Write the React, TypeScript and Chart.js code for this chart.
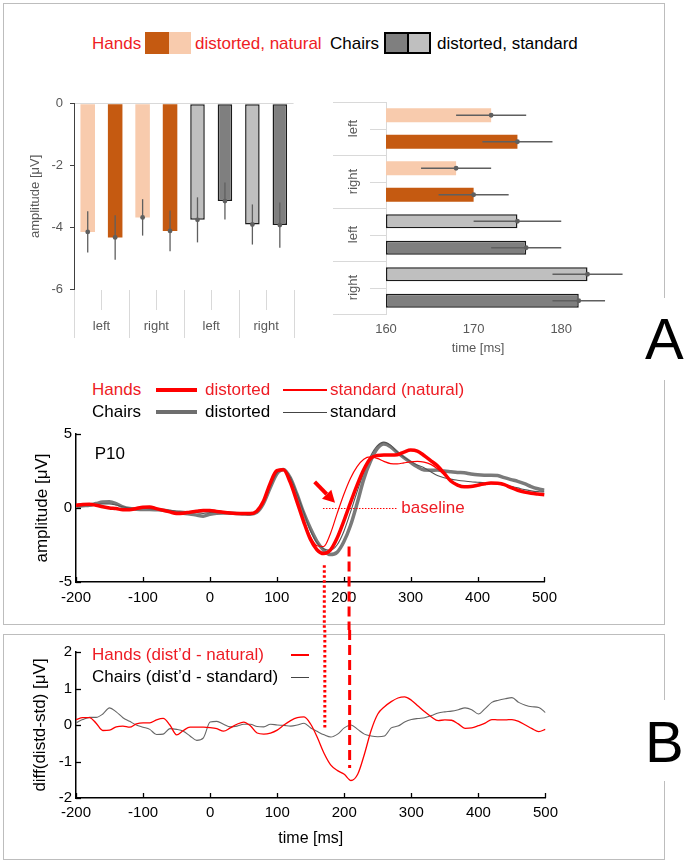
import React, { useEffect, useRef } from 'react';
import { Chart, registerables } from 'chart.js';

Chart.register(...registerables);

const FONT = "'Liberation Sans', Arial, Helvetica, sans-serif";
Chart.defaults.font.family = FONT;

const RED = '#ff0000';
const RED_TEXT = '#ee1c24';
const GRAY_TXT = '#595959';
const ERR_COLOR = '#5f5f5f';

// ---------- Panel A, top: amplitude & latency bars ----------
const groupLabels = ['left', 'right', 'left', 'right'];
const lightColors = ['#F8CBAD', '#F8CBAD', '#BFBFBF', '#BFBFBF'];
const darkColors = ['#C55A11', '#C55A11', '#7F7F7F', '#7F7F7F'];
const barBorderColors = ['rgba(0,0,0,0)', 'rgba(0,0,0,0)', '#1a1a1a', '#1a1a1a'];
const barBorderWidths = [0, 0, 1.5, 1.5];

// amplitude [µV]: light = natural / standard, dark = distorted
const ampLight = [-4.15, -3.68, -3.76, -3.91];
const ampDark = [-4.33, -4.12, -3.15, -3.93];
const ampLightErr = [0.67, 0.59, 0.73, 0.65];
const ampDarkErr = [0.72, 0.66, 0.6, 0.73];

// latency [ms]
const latAxisMin = 160;
const latAxisMax = 181;
const latLight = [172, 168, 175, 183];
const latDark = [175, 170, 176, 182];
const latLightErr = [4, 4, 5, 4];
const latDarkErr = [4, 4, 4, 3];

// ---------- Panel A, bottom: ERP at P10 ----------
const times = [
  -200, -190, -180, -170, -160, -150, -140, -130, -120, -110,
  -100, -90, -80, -70, -60, -50, -40, -30, -20, -10,
  0, 10, 20, 30, 40, 50, 60, 70, 80, 90,
  100, 110, 120, 130, 140, 150, 160, 170, 180, 190,
  200, 210, 220, 230, 240, 250, 260, 270, 280, 290,
  300, 310, 320, 330, 340, 350, 360, 370, 380, 390,
  400, 410, 420, 430, 440, 450, 460, 470, 480, 490, 500,
];

const handsDistorted = [
  0.19, 0.24, 0.26, 0.18, 0.08, 0.0, -0.04, -0.12, -0.12, -0.04,
  0.05, 0.07, -0.04, -0.15, -0.26, -0.37, -0.35, -0.28, -0.22, -0.17,
  -0.17, -0.23, -0.29, -0.34, -0.37, -0.38, -0.38, -0.22, 0.45, 1.65,
  2.52, 2.58, 1.75, 0.45, -0.9, -2.1, -2.82, -3.08, -2.85, -2.05,
  -0.9, 0.35, 1.55, 2.6, 3.35, 3.55, 3.58, 3.58, 3.6, 3.78,
  3.92, 3.85, 3.55, 3.2, 2.85, 2.35, 1.82, 1.55, 1.43, 1.45,
  1.54, 1.63, 1.69, 1.67, 1.58, 1.37, 1.2, 1.07, 0.99, 0.94, 0.9,
];

const handsNatural = [
  0.24, 0.28, 0.27, 0.2, 0.1, 0.02, -0.03, -0.08, -0.06, 0.02,
  0.08, 0.06, -0.02, -0.12, -0.22, -0.3, -0.3, -0.24, -0.18, -0.14,
  -0.14, -0.18, -0.24, -0.3, -0.33, -0.35, -0.35, -0.2, 0.4, 1.55,
  2.45, 2.55, 1.85, 0.6, -0.75, -1.9, -2.55, -2.6, -1.75, -0.4,
  0.9, 2.0, 2.8, 3.3, 3.45, 3.35, 3.15, 3.0, 2.98, 3.05,
  3.12, 3.15, 3.1, 2.95, 2.65, 2.25, 1.85, 1.6, 1.48, 1.46,
  1.5, 1.58, 1.64, 1.62, 1.52, 1.38, 1.24, 1.12, 1.04, 0.98, 0.95,
];

const chairsDistorted = [
  0.08, 0.15, 0.19, 0.3, 0.4, 0.42, 0.3, 0.08, -0.04, -0.08,
  -0.1, -0.1, -0.12, -0.15, -0.22, -0.3, -0.35, -0.4, -0.48, -0.55,
  -0.42, -0.35, -0.33, -0.35, -0.37, -0.4, -0.42, -0.3, 0.3, 1.35,
  2.3, 2.6, 2.05, 0.95, -0.3, -1.35, -2.25, -2.85, -3.15, -3.0,
  -2.3, -1.2, 0.3, 1.95, 3.15, 4.0, 4.32, 4.14, 3.75, 3.4,
  3.08, 2.78, 2.56, 2.55, 2.56, 2.5, 2.45, 2.4, 2.38, 2.3,
  2.24, 2.22, 2.22, 2.2, 2.05, 1.92, 1.8, 1.65, 1.45, 1.3, 1.2,
];

const chairsStandard = [
  0.12, 0.16, 0.2, 0.24, 0.28, 0.28, 0.2, 0.08, 0.0, -0.04,
  -0.02, -0.04, -0.08, -0.12, -0.16, -0.2, -0.22, -0.26, -0.32, -0.36,
  -0.3, -0.28, -0.28, -0.3, -0.33, -0.36, -0.37, -0.26, 0.35, 1.4,
  2.35, 2.6, 2.1, 1.0, -0.25, -1.5, -2.35, -2.75, -2.85, -2.5,
  -1.6, -0.3, 1.1, 2.4, 3.5, 4.2, 4.45, 4.25, 3.8, 3.45,
  3.15, 2.9, 2.72, 2.45, 2.2, 2.05, 1.95, 1.88, 1.82, 1.77,
  1.74, 1.71, 1.69, 1.67, 1.6, 1.46, 1.36, 1.24, 1.16, 1.11, 1.08,
];

// ---------- Panel B: difference waves ----------
const diffHands = [
  0.15, 0.2, 0.2, 0.05, -0.15, -0.14, -0.05, -0.03, -0.06, 0.03,
  0.06, 0.06, 0.14, 0.18, 0.0, -0.27, -0.15, -0.06, -0.06, -0.06,
  -0.07, -0.1, -0.17, -0.08, 0.02, 0.08, -0.02, -0.22, -0.25, -0.22,
  -0.14, 0.0, 0.12, 0.2, 0.22, 0.02, -0.35, -0.78, -1.1, -1.25,
  -1.35, -1.52, -1.35, -0.8, -0.15, 0.3, 0.5, 0.64, 0.74, 0.77,
  0.68, 0.52, 0.36, 0.22, 0.12, 0.14, 0.13, 0.03, -0.09, -0.08,
  -0.02, 0.05, 0.15, 0.14, 0.14, 0.15, 0.1, 0.0, -0.1, -0.18, -0.12,
];

const diffChairs = [
  0.06, 0.15, 0.21, 0.21, 0.3, 0.47, 0.36, 0.2, 0.1, 0.0,
  -0.06, -0.12, -0.26, -0.25, -0.1, -0.12, -0.17, -0.3, -0.42, -0.35,
  0.08, 0.1, 0.02, -0.05, -0.03, 0.02, 0.02, -0.04, -0.05, 0.02,
  0.0, -0.01, -0.03, 0.0, 0.05, -0.08, -0.18, -0.27, -0.33, -0.25,
  -0.08, 0.0, -0.12, -0.25, -0.3, -0.32, -0.3, -0.08, -0.03, 0.08,
  0.15, 0.18, 0.2, 0.26, 0.33, 0.36, 0.38, 0.42, 0.47, 0.42,
  0.3, 0.45, 0.62, 0.68, 0.72, 0.75, 0.62, 0.54, 0.5, 0.48, 0.34,
];

// annotations (data coordinates)
const markerDotted = { t: 171, erpTop: -3.87, diffEnd: -0.09 };
const markerDashed = { t: 208, erpTop: -2.6, diffEnd: -1.18 };
const baselineFrom = 169;
const baselineTo = 280;
const baselineTextT = 286;
const arrowTail = { t: 156.6, v: 1.77 };
const arrowTip = { t: 187, v: 0.35 };
const electrodeLabel = { text: 'P10', t: -172, v: 3.65 };

const pts = (vals: number[]) => times.map((t, i) => ({ x: t, y: vals[i] }));

// ---------- plugins ----------
const errorBars = {
  id: 'errorBars',
  afterDatasetsDraw(chart: any) {
    const horizontal = chart.options.indexAxis === 'y';
    const { ctx } = chart;
    ctx.save();
    chart.data.datasets.forEach((ds: any, di: number) => {
      const meta = chart.getDatasetMeta(di);
      meta.data.forEach((el: any, i: number) => {
        const v = ds.data[i];
        const e = ds.errors[i];
        ctx.strokeStyle = ERR_COLOR;
        ctx.fillStyle = ERR_COLOR;
        ctx.lineWidth = 1.3;
        ctx.beginPath();
        if (horizontal) {
          const sx = chart.scales.x;
          ctx.moveTo(sx.getPixelForValue(v - e), el.y);
          ctx.lineTo(sx.getPixelForValue(v + e), el.y);
          ctx.stroke();
          ctx.beginPath();
          ctx.arc(sx.getPixelForValue(v), el.y, 2.4, 0, Math.PI * 2);
          ctx.fill();
        } else {
          const sy = chart.scales.y;
          ctx.moveTo(el.x, sy.getPixelForValue(v - e));
          ctx.lineTo(el.x, sy.getPixelForValue(v + e));
          ctx.stroke();
          ctx.beginPath();
          ctx.arc(el.x, sy.getPixelForValue(v), 2.4, 0, Math.PI * 2);
          ctx.fill();
        }
      });
    });
    ctx.restore();
  },
};

const vbarDecor = {
  id: 'vbarDecor',
  afterDraw(chart: any) {
    const { ctx, chartArea: a, scales: { x } } = chart;
    const n = chart.data.labels.length;
    const step = x.getPixelForValue(1) - x.getPixelForValue(0);
    ctx.save();
    ctx.strokeStyle = '#d9d9d9';
    ctx.lineWidth = 1;
    for (let i = 0; i <= n; i++) {
      const px = Math.round(x.getPixelForValue(0) - step / 2 + i * step) + 0.5;
      ctx.beginPath();
      ctx.moveTo(px, a.bottom + 1);
      ctx.lineTo(px, a.bottom + 49);
      ctx.stroke();
    }
    for (let i = 0; i < n; i++) {
      const px = Math.round(x.getPixelForValue(i)) + 0.5;
      ctx.beginPath();
      ctx.moveTo(px, a.bottom + 1);
      ctx.lineTo(px, a.bottom + 21);
      ctx.stroke();
    }
    ctx.restore();
  },
};

const hbarDecor = {
  id: 'hbarDecor',
  afterDraw(chart: any) {
    const { ctx, chartArea: a, scales: { y } } = chart;
    const labels = chart.data.labels;
    const n = labels.length;
    const step = y.getPixelForValue(1) - y.getPixelForValue(0);
    ctx.save();
    ctx.strokeStyle = '#d9d9d9';
    ctx.lineWidth = 1;
    for (let i = 0; i <= n; i++) {
      const py = Math.round(y.getPixelForValue(0) - step / 2 + i * step) + 0.5;
      ctx.beginPath();
      ctx.moveTo(a.left - 53, py);
      ctx.lineTo(a.left, py);
      ctx.stroke();
    }
    for (let i = 0; i < n; i++) {
      const py = Math.round(y.getPixelForValue(i)) + 0.5;
      ctx.beginPath();
      ctx.moveTo(a.left - 16, py);
      ctx.lineTo(a.left, py);
      ctx.stroke();
    }
    ctx.fillStyle = GRAY_TXT;
    ctx.font = `13px ${FONT}`;
    ctx.textAlign = 'center';
    ctx.textBaseline = 'middle';
    for (let i = 0; i < n; i++) {
      ctx.save();
      ctx.translate(a.left - 33, y.getPixelForValue(i));
      ctx.rotate(-Math.PI / 2);
      ctx.fillText(labels[i], 0, 0);
      ctx.restore();
    }
    ctx.restore();
  },
};

function drawInwardTicks(chart: any) {
  const { ctx, chartArea: a, scales: { x, y } } = chart;
  ctx.save();
  ctx.strokeStyle = '#000';
  ctx.lineWidth = 1.3;
  x.ticks.forEach((t: any) => {
    const px = Math.round(x.getPixelForValue(t.value)) + 0.5;
    ctx.beginPath();
    ctx.moveTo(px, a.bottom);
    ctx.lineTo(px, a.bottom - 5);
    ctx.stroke();
  });
  y.ticks.forEach((t: any) => {
    const py = Math.round(y.getPixelForValue(t.value)) + 0.5;
    ctx.beginPath();
    ctx.moveTo(a.left, py);
    ctx.lineTo(a.left + 5, py);
    ctx.stroke();
  });
  ctx.restore();
}

const erpDecor = {
  id: 'erpDecor',
  afterDraw(chart: any) {
    const { ctx, scales: { x, y } } = chart;
    drawInwardTicks(chart);
    ctx.save();
    // electrode label
    ctx.fillStyle = '#000';
    ctx.font = `17px ${FONT}`;
    ctx.textAlign = 'left';
    ctx.textBaseline = 'middle';
    ctx.fillText(electrodeLabel.text, x.getPixelForValue(electrodeLabel.t), y.getPixelForValue(electrodeLabel.v));
    // baseline dotted line + text
    const y0 = Math.round(y.getPixelForValue(0)) + 0.5;
    ctx.strokeStyle = RED;
    ctx.lineWidth = 1.2;
    ctx.setLineDash([1.5, 1.5]);
    ctx.beginPath();
    ctx.moveTo(x.getPixelForValue(baselineFrom), y0);
    ctx.lineTo(x.getPixelForValue(baselineTo), y0);
    ctx.stroke();
    ctx.setLineDash([]);
    ctx.fillStyle = RED_TEXT;
    ctx.fillText('baseline', x.getPixelForValue(baselineTextT), y0);
    // arrow
    const tx = x.getPixelForValue(arrowTail.t);
    const ty = y.getPixelForValue(arrowTail.v);
    const hx = x.getPixelForValue(arrowTip.t);
    const hy = y.getPixelForValue(arrowTip.v);
    const ang = Math.atan2(hy - ty, hx - tx);
    const headLen = 12;
    const headW = 6.5;
    const bx = hx - headLen * Math.cos(ang);
    const by = hy - headLen * Math.sin(ang);
    ctx.strokeStyle = RED;
    ctx.fillStyle = RED;
    ctx.lineWidth = 4;
    ctx.beginPath();
    ctx.moveTo(tx, ty);
    ctx.lineTo(bx, by);
    ctx.stroke();
    ctx.beginPath();
    ctx.moveTo(hx, hy);
    ctx.lineTo(bx + headW * Math.sin(ang), by - headW * Math.cos(ang));
    ctx.lineTo(bx - headW * Math.sin(ang), by + headW * Math.cos(ang));
    ctx.closePath();
    ctx.fill();
    // vertical markers going down into panel B
    ctx.lineWidth = 3;
    ctx.setLineDash([2.5, 2.5]);
    const dx = x.getPixelForValue(markerDotted.t);
    ctx.beginPath();
    ctx.moveTo(dx, y.getPixelForValue(markerDotted.erpTop));
    ctx.lineTo(dx, chart.height);
    ctx.stroke();
    ctx.setLineDash([10, 5]);
    const sx = x.getPixelForValue(markerDashed.t);
    ctx.beginPath();
    ctx.moveTo(sx, y.getPixelForValue(markerDashed.erpTop));
    ctx.lineTo(sx, chart.height);
    ctx.stroke();
    ctx.restore();
  },
};

const diffDecor = {
  id: 'diffDecor',
  afterDraw(chart: any) {
    const { ctx, scales: { x, y } } = chart;
    drawInwardTicks(chart);
    ctx.save();
    ctx.strokeStyle = RED;
    ctx.lineWidth = 3;
    ctx.setLineDash([2.5, 2.5]);
    const dx = x.getPixelForValue(markerDotted.t);
    ctx.beginPath();
    ctx.moveTo(dx, 0);
    ctx.lineTo(dx, y.getPixelForValue(markerDotted.diffEnd));
    ctx.stroke();
    ctx.setLineDash([10, 5]);
    const sx = x.getPixelForValue(markerDashed.t);
    ctx.beginPath();
    ctx.moveTo(sx, 0);
    ctx.lineTo(sx, y.getPixelForValue(markerDashed.diffEnd));
    ctx.stroke();
    ctx.restore();
  },
};

const baseOpts = {
  responsive: false,
  animation: false as const,
  devicePixelRatio: 1,
  events: [] as any[],
};

function lineChartScales(yMin: number, yMax: number, yStep: number, yTitle: string, yTitlePad: number, xHeight: number, xPad: number, xTitle?: string) {
  return {
    x: {
      type: 'linear',
      min: -200,
      max: 500,
      ticks: { stepSize: 100, color: '#000', font: { size: 15 }, padding: xPad },
      grid: { display: false, drawTicks: false },
      border: { display: true, color: '#000', width: 1.5 },
      title: xTitle
        ? { display: true, text: xTitle, color: '#000', font: { size: 16 }, padding: { top: 0, bottom: 8 } }
        : { display: false },
      afterFit: (s: any) => { s.height = xHeight; },
    },
    y: {
      min: yMin,
      max: yMax,
      ticks: { stepSize: yStep, color: '#000', font: { size: 15 }, padding: 4 },
      grid: { display: false, drawTicks: false },
      border: { display: true, color: '#000', width: 1.5 },
      title: { display: true, text: yTitle, color: '#000', font: { size: 17 }, padding: { top: yTitlePad, bottom: 0 } },
      afterFit: (s: any) => { s.width = 76; },
    },
  };
}

const txt = (left: number, cy: number, color: string, size = 17): React.CSSProperties => ({
  position: 'absolute',
  left,
  top: cy - 10,
  color,
  fontSize: size,
  lineHeight: '20px',
  fontFamily: FONT,
  whiteSpace: 'nowrap',
  zIndex: 2,
});

const swatch = (left: number, cy: number, w: number, h: number, color: string): React.CSSProperties => ({
  position: 'absolute',
  left,
  top: Math.round(cy - h / 2),
  width: w,
  height: h,
  background: color,
  zIndex: 2,
});

export default function App() {
  const c1 = useRef<HTMLCanvasElement>(null);
  const c2 = useRef<HTMLCanvasElement>(null);
  const c3 = useRef<HTMLCanvasElement>(null);
  const c4 = useRef<HTMLCanvasElement>(null);

  useEffect(() => {
    const charts: Chart[] = [];

    charts.push(new Chart(c1.current!, {
      type: 'bar',
      data: {
        labels: groupLabels,
        datasets: [
          {
            label: 'natural / standard', data: ampLight, errors: ampLightErr,
            backgroundColor: lightColors, borderColor: barBorderColors, borderWidth: barBorderWidths,
            borderSkipped: false, categoryPercentage: 1, barPercentage: 0.53,
          } as any,
          {
            label: 'distorted', data: ampDark, errors: ampDarkErr,
            backgroundColor: darkColors, borderColor: barBorderColors, borderWidth: barBorderWidths,
            borderSkipped: false, categoryPercentage: 1, barPercentage: 0.53,
          } as any,
        ],
      },
      options: {
        ...baseOpts,
        layout: { padding: { top: 10, right: 10, left: 0, bottom: 0 } },
        plugins: { legend: { display: false }, tooltip: { enabled: false } },
        scales: {
          x: {
            grid: { display: false, drawTicks: false },
            border: { display: false },
            ticks: { color: GRAY_TXT, font: { size: 13 }, padding: 30 },
            afterFit: (s: any) => { s.height = 50; },
          },
          y: {
            min: -6,
            max: 0,
            ticks: { stepSize: 2, color: GRAY_TXT, font: { size: 13 }, padding: 7 },
            grid: {
              color: (c: any) => (c.tick && c.tick.value === 0 ? '#d9d9d9' : 'rgba(0,0,0,0)'),
              tickColor: '#404040',
              tickLength: 4,
              drawTicks: true,
            },
            border: { display: true, color: '#404040', width: 1 },
            title: { display: true, text: 'amplitude [μV]', color: GRAY_TXT, font: { size: 13 }, padding: { top: 28, bottom: 0 } },
            afterFit: (s: any) => { s.width = 74; },
          },
        } as any,
      },
      plugins: [errorBars, vbarDecor],
    }));

    charts.push(new Chart(c2.current!, {
      type: 'bar',
      data: {
        labels: groupLabels,
        datasets: [
          {
            label: 'natural / standard', data: latLight, errors: latLightErr,
            backgroundColor: lightColors, borderColor: barBorderColors, borderWidth: barBorderWidths,
            borderSkipped: false, categoryPercentage: 1, barPercentage: 0.53, clip: false, base: latAxisMin,
          } as any,
          {
            label: 'distorted', data: latDark, errors: latDarkErr,
            backgroundColor: darkColors, borderColor: barBorderColors, borderWidth: barBorderWidths,
            borderSkipped: false, categoryPercentage: 1, barPercentage: 0.53, clip: false, base: latAxisMin,
          } as any,
        ],
      },
      options: {
        ...baseOpts,
        indexAxis: 'y',
        layout: { padding: { top: 5, right: 70, left: 0, bottom: 0 } },
        plugins: { legend: { display: false }, tooltip: { enabled: false } },
        scales: {
          x: {
            type: 'linear',
            beginAtZero: false,
            min: latAxisMin,
            max: latAxisMax,
            ticks: { stepSize: 10, includeBounds: false, color: GRAY_TXT, font: { size: 13 }, padding: 8 },
            grid: { display: false, drawTicks: false },
            border: { display: false },
            title: { display: true, text: 'time [ms]', color: GRAY_TXT, font: { size: 13 }, padding: { top: 0, bottom: 8 } },
            afterFit: (s: any) => { s.height = 50; },
          },
          y: {
            type: 'category',
            ticks: { display: false },
            grid: { display: false, drawTicks: false },
            border: { display: true, color: '#d9d9d9', width: 1 },
            afterFit: (s: any) => { s.width = 66; },
          },
        } as any,
      },
      plugins: [errorBars, hbarDecor],
    }));

    charts.push(new Chart(c3.current!, {
      type: 'line',
      data: {
        datasets: [
          { label: 'Hands standard (natural)', data: pts(handsNatural), borderColor: RED, borderWidth: 1.2 },
          { label: 'Hands distorted', data: pts(handsDistorted), borderColor: RED, borderWidth: 3.5 },
          { label: 'Chairs standard', data: pts(chairsStandard), borderColor: '#555555', borderWidth: 1.1 },
          { label: 'Chairs distorted', data: pts(chairsDistorted), borderColor: '#7a7a7a', borderWidth: 3.5 },
        ].map((d) => ({ ...d, pointRadius: 0, cubicInterpolationMode: 'monotone' as const, fill: false })),
      },
      options: {
        ...baseOpts,
        layout: { padding: { top: 14, right: 16, left: 0, bottom: 0 } },
        plugins: { legend: { display: false }, tooltip: { enabled: false } },
        scales: lineChartScales(-5, 5, 5, 'amplitude [μV]', 32, 48, 7) as any,
      },
      plugins: [erpDecor],
    }));

    charts.push(new Chart(c4.current!, {
      type: 'line',
      data: {
        datasets: [
          { label: "Hands (dist'd - natural)", data: pts(diffHands), borderColor: RED, borderWidth: 1.3 },
          { label: "Chairs (dist'd - standard)", data: pts(diffChairs), borderColor: '#666666', borderWidth: 1.1 },
        ].map((d) => ({ ...d, pointRadius: 0, cubicInterpolationMode: 'monotone' as const, fill: false })),
      },
      options: {
        ...baseOpts,
        layout: { padding: { top: 22, right: 16, left: 0, bottom: 0 } },
        plugins: { legend: { display: false }, tooltip: { enabled: false } },
        scales: lineChartScales(-2, 2, 1, 'diff(distd-std) [μV]', 30, 58, 6, 'time [ms]') as any,
      },
      plugins: [diffDecor],
    }));

    return () => charts.forEach((c) => c.destroy());
  }, []);

  const boxStyle = (top: number, height: number): React.CSSProperties => ({
    position: 'absolute',
    left: 3,
    top,
    width: 662,
    height,
    boxSizing: 'border-box',
    border: '1px solid #bdbdbd',
    zIndex: 0,
  });

  const letterStyle = (gapTop: number, gapH: number): React.CSSProperties => ({
    position: 'absolute',
    left: 645,
    top: gapTop,
    width: 40,
    height: gapH,
    background: '#fff',
    zIndex: 3,
  });

  const letterText = (top: number): React.CSSProperties => ({
    position: 'absolute',
    left: 645,
    top,
    fontSize: 58,
    lineHeight: '58px',
    fontFamily: FONT,
    color: '#000',
    zIndex: 4,
  });

  const canvasStyle = (left: number, top: number, w: number, h: number): React.CSSProperties => ({
    position: 'absolute', left, top, width: w, height: h, display: 'block', zIndex: 1,
  });

  return (
    <div style={{ position: 'absolute', left: 0, top: 0, width: 685, height: 862, overflow: 'hidden', background: '#fff', fontFamily: FONT }}>
      <div style={boxStyle(3, 622)} />
      <div style={boxStyle(634, 226)} />

      <canvas ref={c1} width={310} height={250} style={canvasStyle(0, 89, 310, 250)} />
      <canvas ref={c2} width={320} height={267} style={canvasStyle(320, 97, 320, 267)} />
      <canvas ref={c3} width={564} height={210} style={canvasStyle(0, 420, 564, 210)} />
      <canvas ref={c4} width={564} height={226} style={canvasStyle(0, 630, 564, 226)} />

      {/* bar legend */}
      <span style={txt(92, 44, RED_TEXT)}>Hands</span>
      <div style={swatch(145, 43, 24, 22, '#C55A11')} />
      <div style={swatch(169, 43, 22, 22, '#F8CBAD')} />
      <span style={txt(195, 44, RED_TEXT)}>distorted, natural</span>
      <span style={txt(330, 44, '#000')}>Chairs</span>
      <div style={{ position: 'absolute', left: 384, top: 32, width: 47, height: 22, boxSizing: 'border-box', border: '2px solid #000', display: 'flex', zIndex: 2 }}>
        <div style={{ flex: 1, background: '#7F7F7F', borderRight: '2px solid #000' }} />
        <div style={{ flex: 1, background: '#BFBFBF' }} />
      </div>
      <span style={txt(437, 44, '#000')}>distorted, standard</span>

      {/* ERP legend */}
      <span style={txt(92, 390, RED_TEXT)}>Hands</span>
      <div style={swatch(156, 390, 41, 4, RED)} />
      <span style={txt(205, 390, RED_TEXT)}>distorted</span>
      <div style={swatch(283, 390, 44, 2, RED)} />
      <span style={txt(330, 390, RED_TEXT)}>standard (natural)</span>
      <span style={txt(92, 412, '#000')}>Chairs</span>
      <div style={swatch(156, 412, 41, 4, '#6e6e6e')} />
      <span style={txt(205, 412, '#000')}>distorted</span>
      <div style={swatch(283, 412, 44, 1, '#444444')} />
      <span style={txt(330, 412, '#000')}>standard</span>

      {/* difference legend */}
      <span style={txt(92, 655, RED_TEXT)}>Hands (dist’d - natural)</span>
      <div style={swatch(291, 655, 18, 2, RED)} />
      <span style={txt(92, 677, '#000')}>Chairs (dist’d - standard)</span>
      <div style={swatch(291, 677, 18, 1, '#444444')} />

      {/* panel letters */}
      <div style={letterStyle(298, 82)} />
      <div style={letterText(310)}>A</div>
      <div style={letterStyle(700, 81)} />
      <div style={letterText(713)}>B</div>
    </div>
  );
}
